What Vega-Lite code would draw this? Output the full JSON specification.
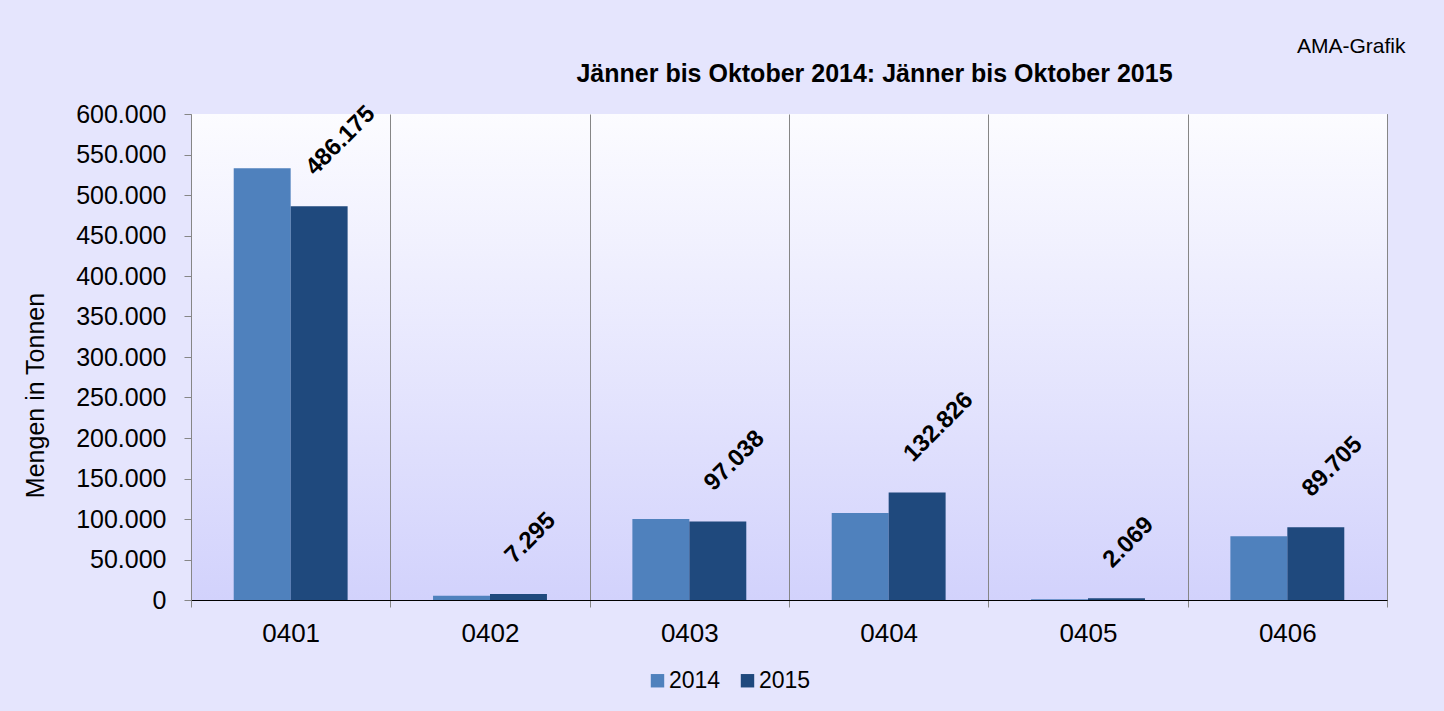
{
  "$schema": "https://vega.github.io/schema/vega-lite/v6.json",
  "width": 1196,
  "height": 486,
  "autosize": {"type": "none"},
  "padding": {"left": 191, "top": 114, "right": 57, "bottom": 111},
  "background": "#e5e5fd",
  "title": {
    "text": "Jänner bis Oktober 2014: Jänner bis Oktober 2015",
    "font": "Liberation Sans",
    "fontSize": 25,
    "fontWeight": "bold",
    "color": "black",
    "frame": "group",
    "anchor": "middle",
    "dx": 85.5,
    "offset": -52
  },
  "config": {
    "locale": {"number": {"decimal": ",", "thousands": ".", "grouping": [3], "currency": ["", " €"]}},
    "view": {"stroke": "#868686", "strokeWidth": 1},
    "font": "Liberation Sans"
  },
  "datasets": {
    "mengen": [
      {"code": "0401", "year": "2014", "value": 533000},
      {"code": "0401", "year": "2015", "value": 486175},
      {"code": "0402", "year": "2014", "value": 5100},
      {"code": "0402", "year": "2015", "value": 7295},
      {"code": "0403", "year": "2014", "value": 100000},
      {"code": "0403", "year": "2015", "value": 97038},
      {"code": "0404", "year": "2014", "value": 107500},
      {"code": "0404", "year": "2015", "value": 132826},
      {"code": "0405", "year": "2014", "value": 800},
      {"code": "0405", "year": "2015", "value": 2069},
      {"code": "0406", "year": "2014", "value": 78600},
      {"code": "0406", "year": "2015", "value": 89705}
    ]
  },
  "resolve": {"scale": {"y": "shared"}, "axis": {"y": "independent"}},
  "layer": [
    {
      "data": {"values": [{"bg": 1}]},
      "mark": {
        "type": "rect",
        "color": {
          "gradient": "linear",
          "x1": 0, "y1": 0, "x2": 0, "y2": 1,
          "stops": [
            {"offset": 0, "color": "#fcfcff"},
            {"offset": 1, "color": "#d2d2fc"}
          ]
        }
      },
      "encoding": {}
    },
    {
      "data": {"name": "mengen"},
      "mark": {"type": "bar"},
      "encoding": {
        "x": {
          "field": "code",
          "type": "nominal",
          "scale": {"paddingInner": 0, "paddingOuter": 0},
          "axis": {
            "title": null,
            "orient": "bottom",
            "labelAngle": 0,
            "labelFont": "Liberation Sans",
            "labelFontSize": 26,
            "labelColor": "black",
            "labelPadding": 13,
            "tickSize": 7,
            "tickColor": "#868686",
            "domainColor": "black",
            "grid": true,
            "gridColor": "#868686",
            "tickBand": "extent",
            "zindex": 1
          }
        },
        "xOffset": {
          "field": "year",
          "type": "nominal",
          "scale": {"domain": ["2014", "2015"], "paddingInner": 0, "paddingOuter": 0.75}
        },
        "y": {
          "field": "value",
          "type": "quantitative",
          "scale": {"domain": [0, 600000], "nice": false},
          "axis": {
            "orient": "left",
            "values": [0, 50000, 100000, 150000, 200000, 250000, 300000, 350000, 400000, 450000, 500000, 550000, 600000],
            "format": ",d",
            "labelFont": "Liberation Sans",
            "labelFontSize": 25,
            "labelColor": "black",
            "labelPadding": 18,
            "tickSize": 7,
            "tickColor": "#868686",
            "domainColor": "#868686",
            "grid": false,
            "title": "Mengen in Tonnen",
            "titleFont": "Liberation Sans",
            "titleFontSize": 25,
            "titleFontWeight": "normal",
            "titleColor": "black",
            "titleAngle": -90,
            "titleX": -148,
            "titleY": 281,
            "titleAlign": "center",
            "titleBaseline": "alphabetic",
            "zindex": 1
          }
        },
        "color": {
          "field": "year",
          "type": "nominal",
          "scale": {"domain": ["2014", "2015"], "range": ["#4f81bd", "#1f497d"]},
          "legend": {
            "title": null,
            "orient": "none",
            "legendX": 455,
            "legendY": 555,
            "direction": "horizontal",
            "symbolType": "square",
            "symbolSize": 180,
            "symbolStrokeWidth": 0,
            "labelFont": "Liberation Sans",
            "labelFontSize": 23,
            "labelColor": "black",
            "labelOffset": 0,
            "columnPadding": 15,
            "padding": 0
          }
        }
      }
    },
    {
      "data": {"name": "mengen"},
      "transform": [{"filter": "datum.year == '2015'"}],
      "mark": {
        "type": "text",
        "align": "left",
        "baseline": "alphabetic",
        "angle": -45,
        "dx": 18,
        "dy": -24,
        "font": "Liberation Sans",
        "fontSize": 24,
        "fontWeight": "bold",
        "color": "black"
      },
      "encoding": {
        "x": {
          "field": "code",
          "type": "nominal",
          "scale": {"paddingInner": 0, "paddingOuter": 0},
          "axis": {
            "title": null,
            "orient": "bottom",
            "labelAngle": 0,
            "labelFont": "Liberation Sans",
            "labelFontSize": 26,
            "labelColor": "black",
            "labelPadding": 13,
            "tickSize": 7,
            "tickColor": "#868686",
            "domainColor": "black",
            "grid": true,
            "gridColor": "#868686",
            "tickBand": "extent",
            "zindex": 1
          }
        },
        "xOffset": {
          "field": "year",
          "type": "nominal",
          "scale": {"domain": ["2014", "2015"], "paddingInner": 0, "paddingOuter": 0.75}
        },
        "y": {
          "field": "value",
          "type": "quantitative",
          "axis": {
            "orient": "right",
            "labels": false,
            "ticks": false,
            "domain": false,
            "grid": false,
            "title": "AMA-Grafik",
            "titleFont": "Liberation Sans",
            "titleFontSize": 21,
            "titleFontWeight": "normal",
            "titleColor": "black",
            "titleAngle": 0,
            "titleX": 18,
            "titleY": -62,
            "titleAlign": "right",
            "titleBaseline": "alphabetic"
          }
        },
        "text": {"field": "value", "type": "quantitative", "format": ",d"}
      }
    }
  ]
}
